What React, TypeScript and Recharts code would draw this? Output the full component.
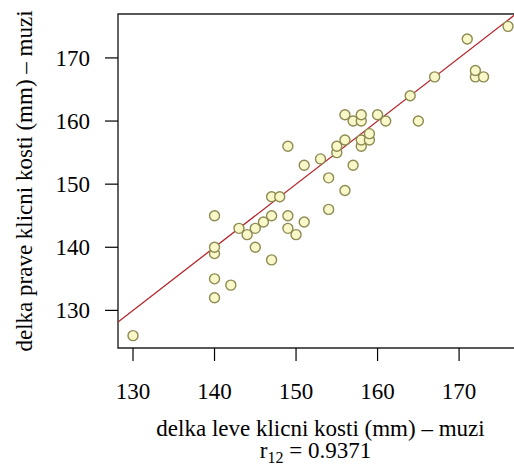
import {
  ScatterChart,
  Scatter,
  XAxis,
  YAxis,
  ReferenceLine,
  ReferenceArea,
} from 'recharts'

// left clavicle length (x) vs right clavicle length (y), men, mm
const leftLen = [
  130, 140, 140, 142, 140, 140, 145, 147, 140, 143, 144, 145, 146, 147, 149, 149,
  150, 151, 147, 148, 154, 156, 154, 151, 149, 153, 157, 155, 155, 156, 158, 158,
  159, 159, 157, 158, 161, 156, 158, 160, 165, 164, 167, 172, 173, 172, 171, 176,
]
const rightLen = [
  126, 132, 135, 134, 139, 140, 140, 138, 145, 143, 142, 143, 144, 145, 145, 143,
  142, 144, 148, 148, 146, 149, 151, 153, 156, 154, 153, 155, 156, 157, 156, 157,
  157, 158, 160, 160, 160, 161, 161, 161, 160, 164, 167, 167, 167, 168, 173, 175,
]
const xTicks = [130, 140, 150, 160, 170]
const yTicks = [130, 140, 150, 160, 170]
const xTitle = 'delka leve klicni kosti (mm) – muzi'
const yTitle = 'delka prave klicni kosti (mm) – muzi'
const corrLabel = '0.9371'

const X_DOMAIN: [number, number] = [128.16, 177.84]
const Y_DOMAIN: [number, number] = [124.04, 176.96]

const FONT = '"Liberation Serif", "Times New Roman", serif'
const FONT_SIZE = 23

const data = leftLen.map((x, i) => ({ x, y: rightLen[i] }))

// identity line y = x
const diag = [
  { x: X_DOMAIN[0], y: X_DOMAIN[0] },
  { x: X_DOMAIN[1], y: X_DOMAIN[1] },
]

// eslint-disable-next-line @typescript-eslint/no-explicit-any
function Dot(props: any) {
  return (
    <circle
      cx={props.cx}
      cy={props.cy}
      r={5}
      fill="#f9f8c9"
      stroke="#8d8a52"
      strokeWidth={1.4}
    />
  )
}

// eslint-disable-next-line @typescript-eslint/no-explicit-any
function XTick(props: any) {
  return (
    <text
      x={props.x}
      y={props.y}
      dy="0.71em"
      textAnchor="middle"
      fontFamily={FONT}
      fontSize={FONT_SIZE}
      fill="#000"
    >
      {props.payload.value}
    </text>
  )
}

// eslint-disable-next-line @typescript-eslint/no-explicit-any
function YTick(props: any) {
  return (
    <text
      x={props.x}
      y={props.y}
      dy="0.34em"
      textAnchor="end"
      fontFamily={FONT}
      fontSize={FONT_SIZE}
      fill="#000"
    >
      {props.payload.value}
    </text>
  )
}

// eslint-disable-next-line @typescript-eslint/no-explicit-any
function XTitle(props: any) {
  const vb = props.viewBox
  const cx = vb.x + vb.width / 2
  return (
    <g fontFamily={FONT} fontSize={FONT_SIZE} fill="#000">
      <text x={cx} y={436} textAnchor="middle">
        {xTitle}
      </text>
      <text x={cx - 5} y={458} textAnchor="middle">
        <tspan>r</tspan>
        <tspan fontSize={16} dy={5}>
          12
        </tspan>
        <tspan dy={-5}>{' = ' + corrLabel}</tspan>
      </text>
    </g>
  )
}

// eslint-disable-next-line @typescript-eslint/no-explicit-any
function YTitle(props: any) {
  const vb = props.viewBox
  const cy = vb.y + vb.height / 2
  return (
    <text
      x={32}
      y={cy}
      transform={`rotate(-90, 32, ${cy})`}
      textAnchor="middle"
      fontFamily={FONT}
      fontSize={FONT_SIZE}
      fill="#000"
    >
      {yTitle}
    </text>
  )
}

export default function App() {
  return (
    <div
      style={{
        position: 'absolute',
        left: 0,
        top: 0,
        width: 514,
        height: 470,
        overflow: 'hidden',
        background: '#fff',
      }}
    >
      <ScatterChart
        width={530}
        height={470}
        margin={{ top: 14, right: 7, bottom: 0, left: 0 }}
      >
        <XAxis
          dataKey="x"
          type="number"
          domain={X_DOMAIN}
          allowDataOverflow
          ticks={xTicks}
          interval={0}
          height={122}
          axisLine={false}
          tickLine={{ stroke: '#000', strokeWidth: 1.2 }}
          tickSize={13}
          tickMargin={22}
          tick={<XTick />}
          label={<XTitle />}
        />
        <YAxis
          dataKey="y"
          type="number"
          domain={Y_DOMAIN}
          allowDataOverflow
          ticks={yTicks}
          interval={0}
          width={118}
          axisLine={false}
          tickLine={{ stroke: '#000', strokeWidth: 1.2 }}
          tickSize={13}
          tickMargin={15}
          tick={<YTick />}
          label={<YTitle />}
        />
        <Scatter data={data} shape={<Dot />} isAnimationActive={false} />
        <ReferenceLine
          segment={diag}
          stroke="#b3242a"
          strokeWidth={1.3}
          ifOverflow="hidden"
        />
        <ReferenceArea
          x1={X_DOMAIN[0]}
          x2={X_DOMAIN[1]}
          y1={Y_DOMAIN[0]}
          y2={Y_DOMAIN[1]}
          fill="none"
          fillOpacity={0}
          stroke="#222"
          strokeWidth={1.4}
          ifOverflow="visible"
        />
      </ScatterChart>
    </div>
  )
}
